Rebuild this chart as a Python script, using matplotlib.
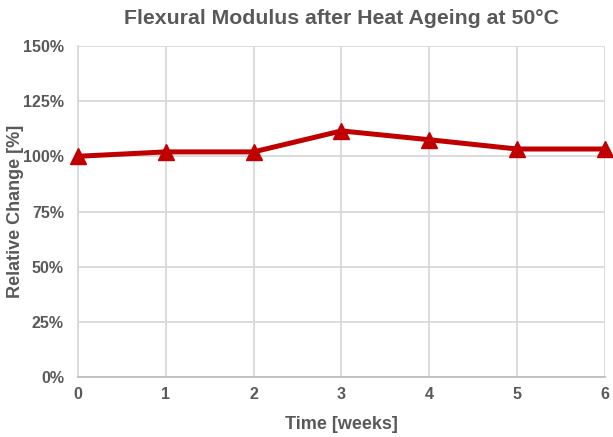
import numpy as np
import matplotlib.pyplot as plt
from matplotlib.ticker import PercentFormatter

plt.rcParams['font.family'] = ['Liberation Sans', 'DejaVu Sans']

# --- data ---
weeks = [0, 1, 2, 3, 4, 5, 6]
relative_change = [100, 102, 102, 111.5, 107.5, 103.3, 103.3]

grey = '#595959'
grid_grey = '#d9d9d9'

fig = plt.figure(figsize=(6.13, 4.37), dpi=100)
ax = fig.add_axes([0.127, 0.137, 0.860, 0.758])

ax.plot(weeks, relative_change, color='#C00000', lw=3.6, marker='^',
        markersize=12, zorder=3, clip_on=False)

ax.set_xlim(0, 6)
ax.set_ylim(0, 150)
ax.set_xticks(weeks)
ax.set_yticks(np.arange(0, 151, 25))
ax.yaxis.set_major_formatter(PercentFormatter(decimals=0))

ax.grid(True, color=grid_grey, lw=1.3)
ax.set_axisbelow(True)
for side in ['top', 'right']:
    ax.spines[side].set_visible(False)
ax.spines['left'].set_color(grid_grey)
ax.spines['left'].set_linewidth(1.3)
ax.spines['bottom'].set_color('#bfbfbf')
ax.spines['bottom'].set_linewidth(1.3)

ax.tick_params(axis='y', length=0, pad=10, labelsize=11.5, labelcolor=grey)
ax.tick_params(axis='x', length=0, pad=7, labelsize=11.5, labelcolor=grey)
for lab in ax.get_xticklabels() + ax.get_yticklabels():
    lab.set_fontweight('bold')

# title centred over the plot area
fig.text(0.127 + 0.860 / 2, 1 - 19 / 437, 'Flexural Modulus after Heat Ageing at 50°C',
         fontsize=15.3, fontweight='bold', color=grey, ha='center', va='center')
ax.set_xlabel('Time [weeks]', fontsize=13, fontweight='bold', color=grey)
ax.set_ylabel('Relative Change [%]', fontsize=13, fontweight='bold', color=grey)
ax.xaxis.set_label_coords(0.5, -0.118)
ax.yaxis.set_label_coords(-0.102, 0.5)

fig.savefig('out.png', dpi=100)
